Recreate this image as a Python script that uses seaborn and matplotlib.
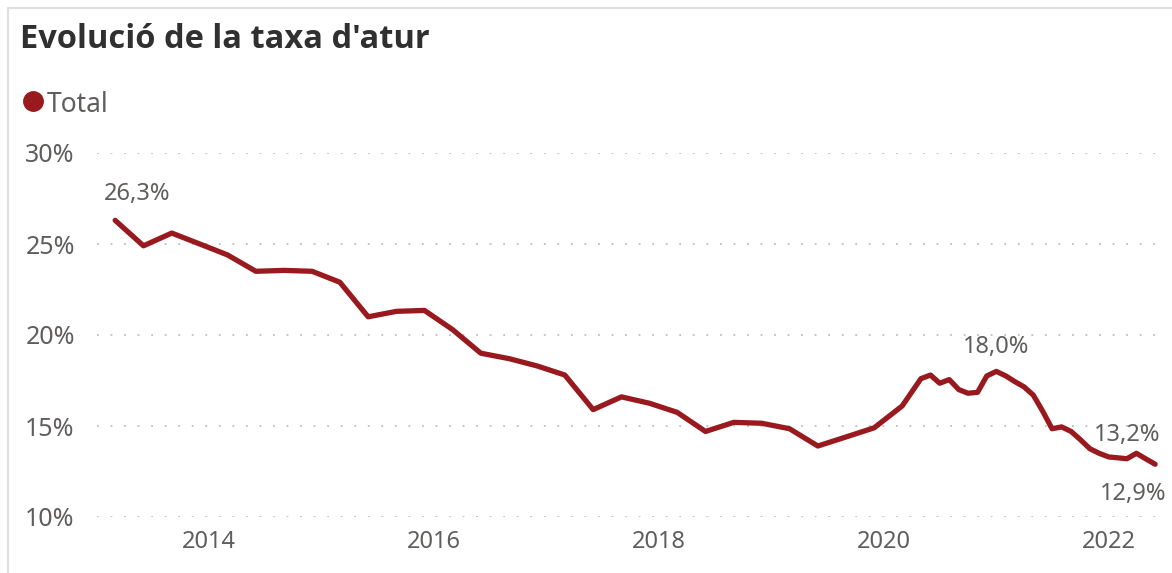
import pandas as pd
import seaborn as sns
import matplotlib
matplotlib.use("Agg")
import matplotlib.pyplot as plt
import matplotlib.dates as mdates
from matplotlib.lines import Line2D

sns.set_theme(style="white")
plt.rcParams['font.family'] = ['Noto Sans', 'DejaVu Sans']

# quarterly data 2013 -> 2020 Q1, then monthly from May 2020
quarter_dates = pd.date_range("2013-03-01", "2020-03-01", freq="3MS")
quarter_values = [26.3, 24.9, 25.6, 25.0,
                  24.4, 23.5, 23.55, 23.5,
                  22.9, 21.0, 21.3, 21.35,
                  20.3, 19.0, 18.7, 18.3,
                  17.8, 15.9, 16.6, 16.25,
                  15.75, 14.7, 15.2, 15.15,
                  14.85, 13.9, 14.4, 14.9,
                  16.1]
month_dates = pd.date_range("2020-05-01", "2022-06-01", freq="MS")
month_values = [17.6, 17.8, 17.35, 17.55, 17.0, 16.8, 16.85, 17.75,
                18.0, 17.75, 17.45, 17.15, 16.7, 15.8, 14.85, 14.95,
                14.7, 14.25, 13.75, 13.5,
                13.3, 13.25, 13.2, 13.5, 13.2, 12.9]

# labelled points: (date, text, offset in pixels)
labels = [("2013-03-01", "26,3%", (22, 26)),
          ("2021-01-01", "18,0%", (0, 24)),
          ("2022-03-01", "13,2%", (0, 24)),
          ("2022-06-01", "12,9%", (-22, -30))]

df = pd.DataFrame({"date": list(quarter_dates) + list(month_dates),
                   "taxa": quarter_values + month_values})

red = "#991A1E"
grey = "#605E5C"

fig = plt.figure(figsize=(11.72, 5.73), dpi=100)
ax = fig.add_axes([97 / 1172, 1 - 517 / 573, (1165 - 97) / 1172, (517 - 153) / 573])

sns.lineplot(data=df, x="date", y="taxa", ax=ax, color=red, linewidth=3.8,
             solid_joinstyle="round", solid_capstyle="round")

ax.set_ylim(10, 30)
ax.set_yticks([10, 15, 20, 25, 30])
ax.set_yticklabels(["10%", "15%", "20%", "25%", "30%"])
ax.set_xlim(pd.Timestamp("2013-01-01"), pd.Timestamp("2022-07-03"))
ax.xaxis.set_major_locator(mdates.YearLocator(2))
ax.xaxis.set_major_formatter(mdates.DateFormatter("%Y"))
ax.set(xlabel="", ylabel="")
ax.grid(axis="y", color="#BEBEBE", linestyle=(0, (1, 6.5)), linewidth=1.3)
ax.grid(axis="x", visible=False)
sns.despine(ax=ax, left=True, bottom=True)
ax.tick_params(axis="y", length=0, pad=16, labelsize=18, labelcolor=grey)
ax.tick_params(axis="x", length=0, pad=9, labelsize=17, labelcolor=grey)

lookup = dict(zip(df["date"], df["taxa"]))
for d, txt, off in labels:
    d = pd.Timestamp(d)
    ax.annotate(txt, (d, lookup[d]), xytext=off, textcoords="offset pixels",
                ha="center", va="center", fontsize=17, color=grey)

# title and legend
fig.text(20 / 1172, 1 - 48 / 573, "Evolució de la taxa d'atur", fontsize=23.5,
         fontweight="bold", color="#303030", va="baseline",
         family=["Open Sans", "Lato", "DejaVu Sans"])
fig.add_artist(Line2D([33 / 1172], [1 - 101 / 573], marker="o", markersize=14,
                      color=red, transform=fig.transFigure))
fig.text(47 / 1172, 1 - 112 / 573, "Total", fontsize=19, color=grey, va="baseline")

# visual border
fig.add_artist(Line2D([8 / 1172, 8 / 1172], [0, 1 - 8 / 573], color="#E0E0E0",
                      linewidth=1.5, transform=fig.transFigure))
fig.add_artist(Line2D([8 / 1172, 1], [1 - 8 / 573, 1 - 8 / 573], color="#E0E0E0",
                      linewidth=1.5, transform=fig.transFigure))

plt.savefig("out.png", dpi=100)
plt.close()
